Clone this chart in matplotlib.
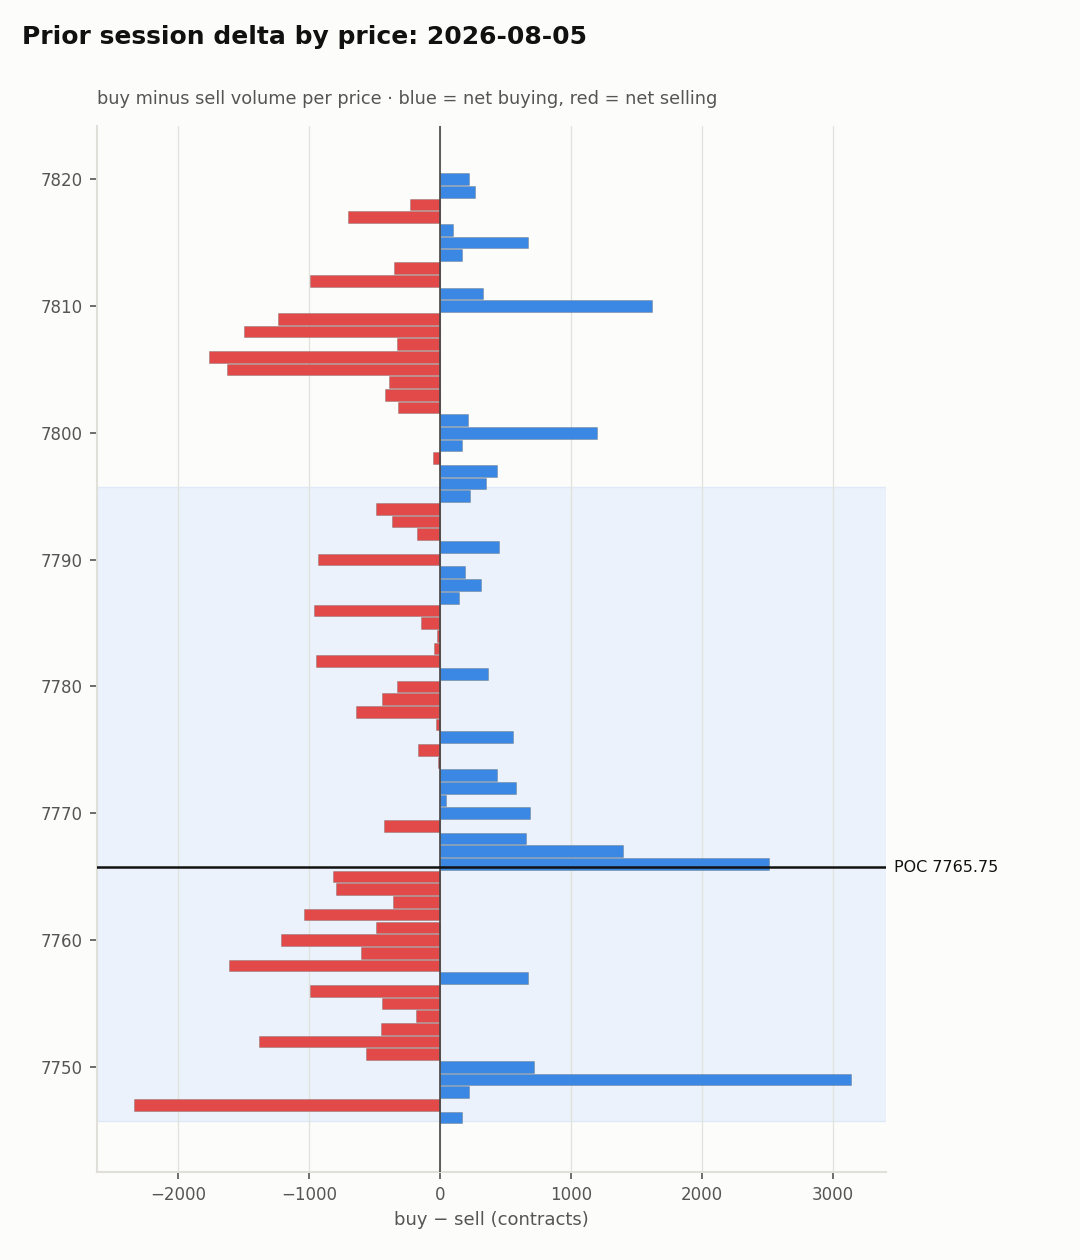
import numpy as np
import matplotlib
matplotlib.use('Agg')
import matplotlib.pyplot as plt
import matplotlib.transforms as mtransforms

# Niveis de preco (1 ponto) e delta por nivel
precos = list(range(7820, 7745, -1))
delta = [
    225, 265, -225, -700, 100, 670, 166, -350, -995, 326,          # 7820-7811
    1620, -1235, -1494, -326, -1762, -1625, -387, -416, -317, 212, # 7810-7801
    1200, 166, -50, 433, 349, 227, -485, -363, -172, 453,          # 7800-7791
    -933, 189, 317, 142, -962, -142, -20, -44, -948, 363,          # 7790-7781
    -326, -439, -642, -29, 561, -166, -15, 439, 584, 44,           # 7780-7771
    689, -430, 660, 1398, 2510, -820, -797, -355, -1038, -485,     # 7770-7761
    -1212, -605, -1608, 672, -994, -439, -180, -453, -1381, -567,  # 7760-7751
    721, 3140, 218, -2335, 166,                                    # 7750-7746
]

poc = 7765.75
vah = 7795.75
val = 7745.75
data_sessao = '2026-08-05'

azul = '#3a88e4'
vermelho = '#e24a4a'
fundo = '#fcfcfa'

fig = plt.figure(figsize=(10.8, 12.6), dpi=100, facecolor=fundo)
ax = fig.add_axes([0.0898, 0.0698, 0.7306, 0.8302])
ax.set_facecolor(fundo)

cores = [azul if d >= 0 else vermelho for d in delta]
ax.barh(precos, delta, height=0.92, color=cores,
        edgecolor=(0.4, 0.4, 0.4, 0.4), linewidth=0.6, zorder=3)

# Value area
ax.axhspan(val, vah, facecolor='#ebf2fc', edgecolor='#dfe8f6', linewidth=1, zorder=0)

ax.axvline(0, color='#444444', linewidth=1.2, zorder=4)
ax.axhline(poc, color='#111111', linewidth=1.8, zorder=5)

trans = mtransforms.blended_transform_factory(ax.transAxes, ax.transData)
ax.text(1.01, poc, f'POC {poc:.2f}', transform=trans, va='center', ha='left',
        fontsize=11.5, color='#111111')

ax.set_xlim(-2618, 3405)
ax.set_ylim(7741.7, 7824.2)
ax.set_xticks(range(-2000, 3001, 1000))
ax.set_yticks(range(7750, 7821, 10))

ax.grid(axis='x', color='#e2e2dc', linewidth=0.9, zorder=1)
ax.set_axisbelow(True)

for lado in ['top', 'right']:
    ax.spines[lado].set_visible(False)
for lado in ['left', 'bottom']:
    ax.spines[lado].set_color('#e0e0d8')
    ax.spines[lado].set_linewidth(1.5)

ax.tick_params(axis='both', colors='#555555', labelsize=12, length=5, width=1.2, pad=5)
ax.set_xlabel('buy − sell (contracts)', fontsize=13, color='#555555', labelpad=5)

fig.text(0.0204, 1 - 37 / 1260, f'Prior session delta by price: {data_sessao}',
         fontsize=18, fontweight='bold', va='center', ha='left', color='#111111')
fig.text(0.0898, 1 - 99 / 1260,
         'buy minus sell volume per price · blue = net buying, red = net selling',
         fontsize=12.8, va='center', ha='left', color='#555555')

fig.savefig('out.png', dpi=100, facecolor=fundo)
